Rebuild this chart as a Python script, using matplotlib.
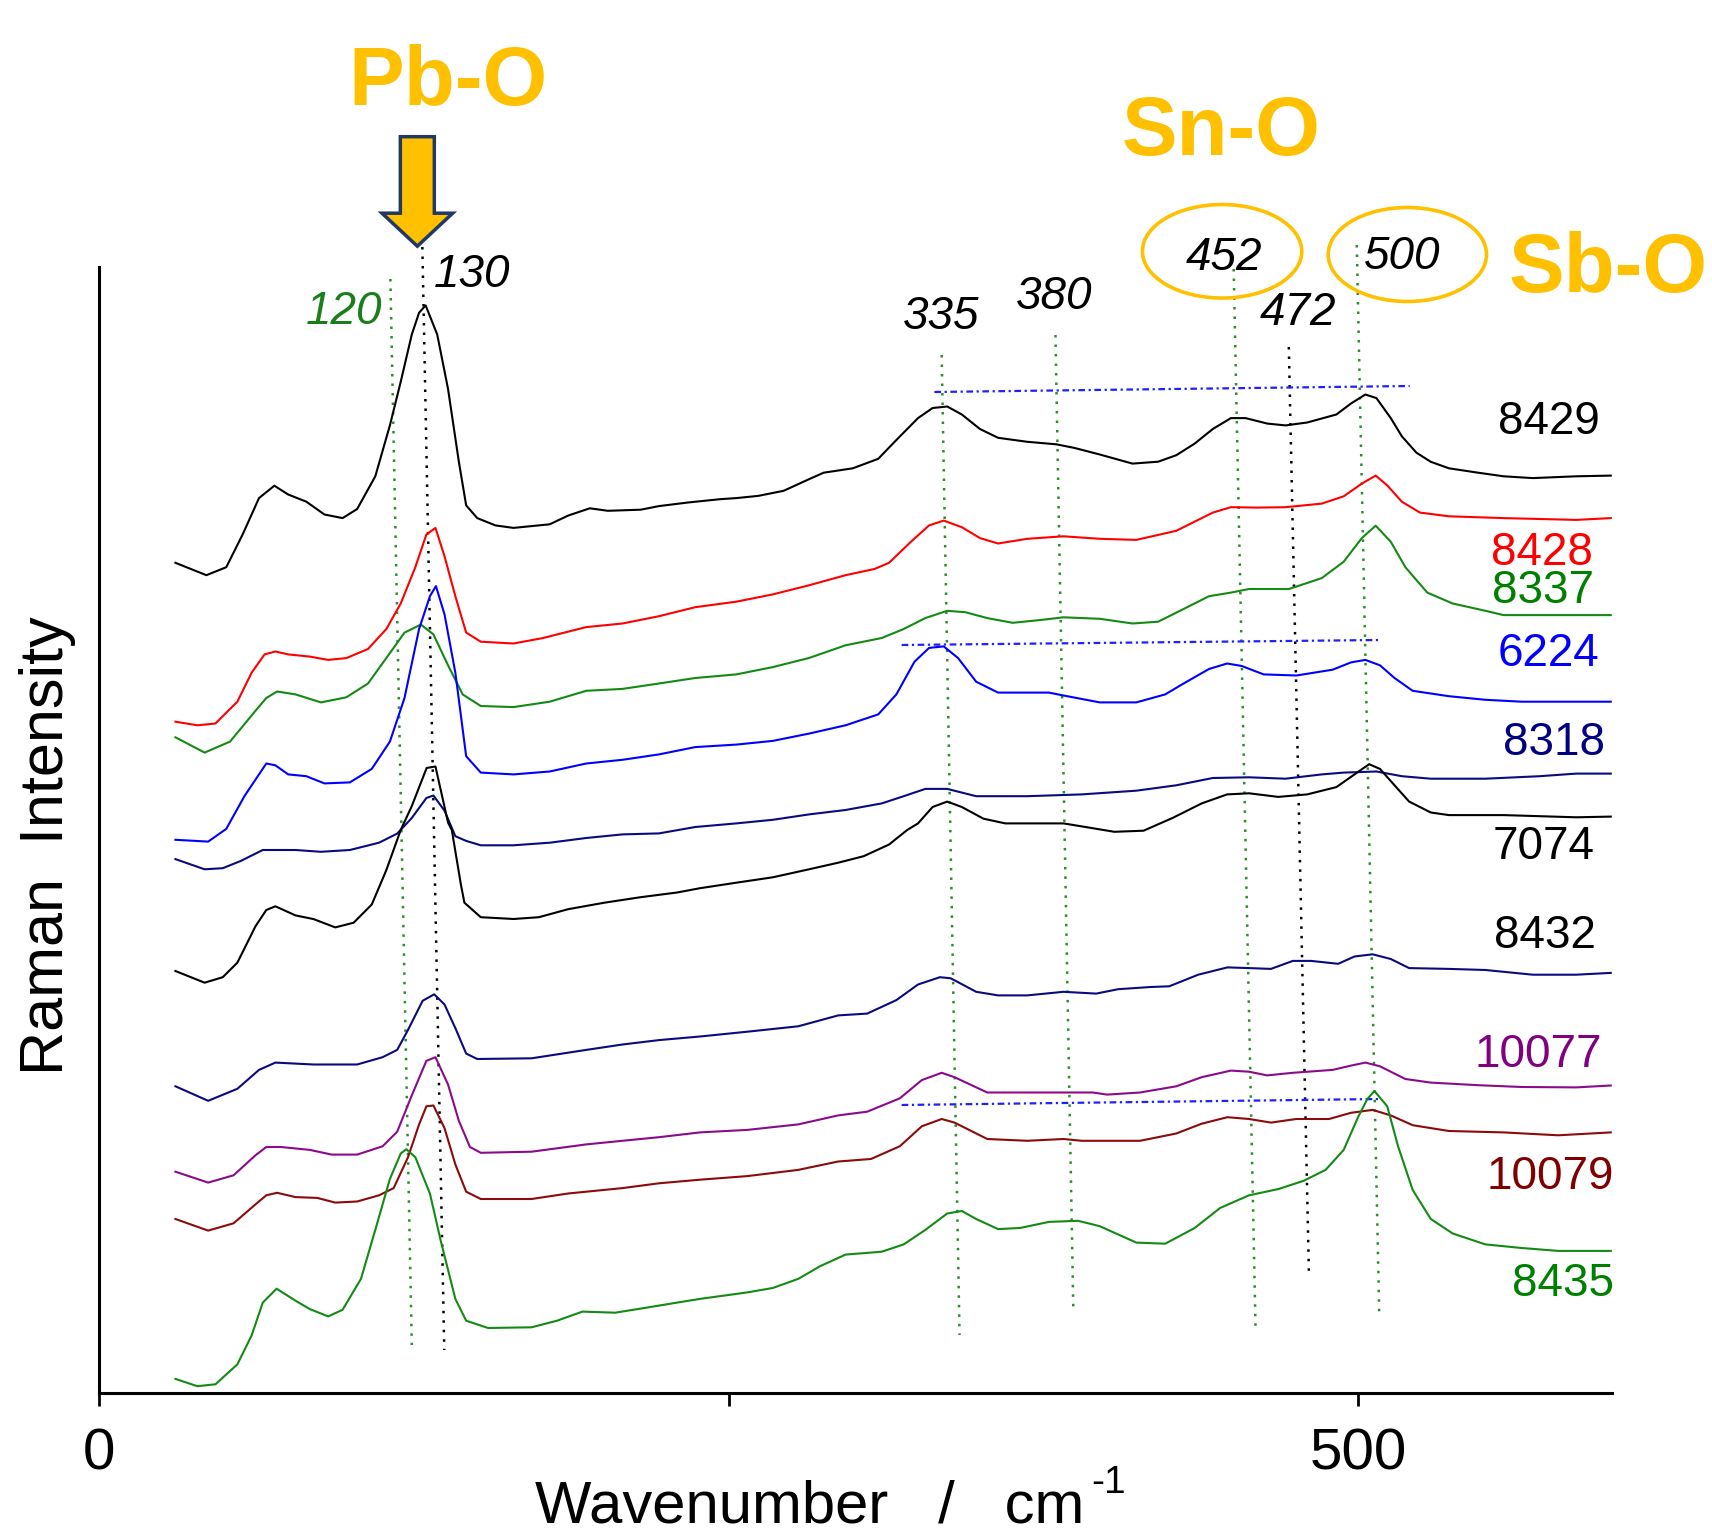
import numpy as np
import matplotlib
matplotlib.use("Agg")
import matplotlib.pyplot as plt
from matplotlib.patches import Ellipse

plt.rcParams['font.family'] = ['Liberation Sans', 'DejaVu Sans']

# spectra (wavenumber, offset intensity)
wn_8429 = [30.2, 42.5, 50.4, 56.9, 63.4, 69.5, 75, 82.2, 89.4, 96.6, 102.4, 109.6, 115.4, 119.7, 124.1, 127, 129.6,
           134.2, 138.5, 142.8, 145.7, 150.1, 157.3, 164.5, 178.9, 186.2, 194.8, 202, 215, 222.3, 233.8, 246.5, 253,
           261.7, 271.8, 281.9, 287.7, 299.3, 309.4, 316.6, 325.2, 331, 336.8, 342.6, 349.8, 357, 368.6, 380.1, 387.3,
           397.4, 410.4, 420.6, 427.8, 435.1, 442.3, 449.5, 455.3, 464, 471.2, 479.8, 491.4, 497.2, 502.9, 507.3, 513,
           517.4, 523.2, 528.9, 536.1, 547.7, 557.8, 569.4, 586.7, 600.4]
int_8429 = [830.2, 817.8, 825.8, 858.5, 894.9, 907.3, 898.5, 891.3, 878.5, 874.9, 884, 916.7, 967.6, 1011.2, 1058.5,
            1080.3, 1087.6, 1058.5, 1004, 931.2, 887.6, 874.9, 867.6, 865.1, 868.7, 877.4, 884.7, 882.2, 883.3, 886.9,
            890.5, 893.8, 894.9, 897.1, 902.2, 913.8, 920.3, 924.7, 934.2, 953, 974.9, 985, 986.5, 978.5, 964, 955.2,
            951.2, 948.7, 945.1, 938.5, 929.4, 931.3, 937.8, 949.4, 964, 974.9, 974.9, 969.4, 967.6, 970.5, 978.5,
            989.5, 998.5, 994.9, 974.9, 956.7, 940.3, 931.2, 924.7, 920.3, 916.7, 914.9, 916.7, 917.4]

wn_8428 = [30.2, 38.9, 46.1, 54.8, 60.5, 65.6, 69.9, 75, 83.6, 90.9, 98.1, 106.7, 114, 119.7, 125.5, 129.9, 133.5,
           137.1, 141.4, 145.7, 151.5, 164.5, 176.1, 193.4, 207.8, 222.3, 236.7, 253, 267.5, 281.9, 296.4, 307.9,
           313.7, 322.4, 329.6, 335.4, 342.6, 349.8, 357, 368.6, 383, 397.4, 411.9, 427.8, 442.3, 449.5, 459.6, 471.2,
           485.6, 494.3, 501.5, 507, 511.6, 517.4, 524.6, 536.1, 557.8, 586.7, 600.4]
int_8428 = [671.3, 667.7, 669.5, 691.3, 720.4, 738.6, 741.5, 738.6, 736.4, 733.1, 734.9, 744, 764, 789.5, 825.8,
            858.5, 865.1, 836.7, 796.8, 760.4, 751.3, 749.5, 754.9, 765.9, 769.5, 776.8, 785.8, 791.3, 798.6, 807.7,
            817.8, 824, 830.2, 851.3, 867.6, 872.4, 865.8, 854.9, 849.5, 854.2, 856.7, 854.2, 853.1, 862.2, 880.4,
            885.8, 885.4, 885.8, 889.4, 896.7, 909.4, 917.4, 907.6, 891.3, 880.4, 876.7, 874.9, 873.1, 874.9]

wn_8337 = [30.2, 41.8, 51.9, 62, 66.3, 70.6, 77.9, 88, 98.1, 106.7, 114, 121.2, 127.7, 132.7, 138.5, 144.3, 151.5,
           164.5, 178.9, 193.4, 207.8, 222.3, 236.7, 253, 267.5, 281.9, 296.4, 310.8, 319.5, 328.1, 336.8, 344, 352.7,
           362.8, 374.3, 383, 397.4, 410.4, 420.6, 430.7, 440.8, 449.5, 456.7, 472.6, 485.6, 494.3, 501.5, 507, 513,
           518.8, 527.5, 537.6, 550.6, 557.8, 572.2, 600.4]
int_8337 = [655.7, 640.4, 651.4, 682.2, 695, 701.5, 698.6, 690.6, 695.7, 709.5, 735, 760.4, 768.4, 758.6, 727.7,
            698.6, 687, 685.9, 691.3, 702.2, 704.1, 709.5, 715, 718.6, 725.9, 735, 747.7, 755, 764, 774.9, 782.2,
            780.8, 774.9, 770.2, 773.1, 775.7, 774.2, 769.5, 771.3, 784, 796.8, 800.4, 804, 804, 814.9, 831.3, 854.9,
            867.3, 851.3, 825.8, 800.4, 789.5, 782.2, 777.9, 777.9, 777.9]

wn_6224 = [30.2, 43.2, 50.4, 57.6, 66.3, 69.9, 75, 82.2, 89.4, 99.5, 108.2, 115.4, 121.2, 127, 131.3, 133.7, 137.1,
           141.4, 145.7, 151.5, 164.5, 178.9, 193.4, 207.8, 222.3, 236.7, 253, 267.5, 281.9, 296.4, 309.4, 316.6,
           323.8, 329.6, 335.4, 341.1, 348.3, 357, 377.2, 383, 397.4, 411.9, 423.4, 430.7, 440.8, 448, 453.8, 462.5,
           475.5, 489.9, 497.2, 502.9, 508.7, 514.5, 521.7, 536.1, 550.6, 565, 600.4]
int_6224 = [553.2, 551.4, 564.1, 596.8, 629.5, 627.7, 618.6, 616.8, 609.6, 610.6, 624.1, 651.4, 695, 764, 796.8,
            806.9, 778.6, 720.4, 636.8, 620.4, 618.6, 621.5, 629.5, 633.2, 638.6, 645.9, 648.4, 652.1, 659.4, 667.7,
            678.6, 698.6, 731.3, 745.1, 746.6, 735, 711.3, 700.4, 700.4, 697.5, 690.6, 690.6, 698.6, 709.5, 724,
            729.5, 727, 718.6, 717.5, 723.3, 730.6, 733.1, 727.7, 715, 702.2, 696.8, 693.2, 691.3, 691.3]

wn_8318 = [30.2, 41.8, 49, 56.2, 64.9, 77.9, 88, 99.5, 111.1, 118.3, 124.1, 129.9, 132.7, 137.1, 141.4, 145.7, 151.5,
           164.5, 178.9, 193.4, 207.8, 222.3, 236.7, 253, 267.5, 281.9, 296.4, 310.8, 319.5, 328.1, 336.8, 348.3,
           368.6, 390.2, 411.9, 427.8, 442.3, 456.7, 471.2, 485.6, 494.3, 507.3, 517.4, 528.9, 550.6, 572.2, 586.7,
           600.4]
int_8318 = [533.9, 523.7, 524.8, 532.1, 543, 543, 541.2, 543, 550.3, 559.4, 575, 595, 597.5, 582.3, 556.8, 552.1,
            547.7, 547.7, 550.3, 555, 558.6, 559.6, 566, 569.6, 573.2, 578.6, 583, 589.6, 596.8, 604.1, 604.1, 596.8,
            596.8, 598.6, 602.3, 607.7, 615, 615.7, 614.3, 618.6, 620.4, 621.5, 616.8, 614.3, 614.3, 616.8, 619.4,
            619.4]

wn_7074 = [30.2, 41.8, 49, 54.8, 62, 66.3, 69.9, 77.9, 85.1, 93.7, 101, 108.2, 114, 119.7, 124.1, 130, 133.5, 138.5,
           140, 143.6, 145, 151.5, 164.5, 174.6, 186.2, 200.6, 215, 229.5, 238.6, 253, 267.5, 281.9, 293.5, 303.6,
           313.7, 320.9, 325.2, 331, 336.8, 342.6, 351.2, 359.9, 383, 391.7, 403.2, 414.8, 426.3, 437.9, 448, 456.7,
           468.3, 479.8, 491.4, 498.6, 504.4, 508.7, 514.5, 520.3, 528.9, 536.1, 557.8, 586.7, 600.4]
int_7074 = [422, 410.3, 415.8, 430.3, 466.7, 483, 486.7, 477.6, 473.9, 465.6, 470.3, 488.5, 523, 563, 586.9, 625,
            626.5, 570.4, 563, 508.5, 490.3, 475.8, 474, 475.8, 483.8, 490.3, 495.8, 500.5, 504.8, 510.3, 515.7,
            523.7, 530.3, 536.8, 548.5, 563, 569.6, 586, 591.4, 586, 574.3, 569.6, 569.6, 566, 561.2, 562.3, 575,
            589.6, 598.6, 599.7, 596.1, 598.6, 605.9, 618.6, 628.8, 624.1, 607.7, 591.4, 580.5, 577.9, 577.9, 575.7,
            576.4]

wn_8432 = [30.2, 43.2, 54.8, 63.4, 69.9, 85.1, 102.4, 112.5, 118.3, 122.6, 128.4, 133, 137.1, 141.4, 145.7, 150.1,
           171.7, 193.4, 207.8, 222.3, 238.6, 257.4, 277.6, 293.5, 305, 316.6, 325.2, 333.9, 338.2, 348.3, 357, 368.6,
           383, 396, 404.7, 417.7, 425, 436.5, 448.1, 456.7, 465.4, 474.1, 481.3, 492.1, 498.6, 505.8, 513, 520.3,
           536.1, 550.6, 569.4, 586.7, 600.4]
int_8432 = [306.7, 292.2, 304.2, 323.1, 330.4, 328.5, 328.5, 335.8, 343.1, 363.1, 392.2, 398.7, 388.5, 364.9, 339.4,
            334, 334.7, 343.1, 348.5, 352.9, 356.5, 361.3, 366.7, 377.6, 379.4, 392.9, 408.5, 415.8, 414.7, 401.2,
            397.6, 397.6, 401.2, 399.4, 403.8, 406, 406.7, 418.3, 425.6, 424.9, 424.1, 432.1, 432.1, 429.2, 436.5,
            438.7, 434, 424.9, 424.1, 423, 418.3, 418.3, 420.1]

wn_10077 = [30.2, 43.2, 53.3, 62, 66.3, 72.1, 83.6, 92.3, 102.4, 112.5, 118.3, 124.1, 129.9, 133.5, 138.5, 142.8,
            147.2, 151.5, 171.7, 193.4, 207.8, 222.3, 238.6, 257.4, 277.6, 293.5, 305, 318, 326.7, 334.6, 339.7, 352.7,
            368.6, 394.6, 400.3, 413.4, 427.8, 437.9, 449.5, 456.7, 463.9, 474.1, 489.9, 497.2, 502.9, 508.7, 518.8,
            528.9, 547.7, 565, 586.7, 600.4]
int_10077 = [221.3, 210.4, 217.7, 237.7, 246, 246, 243.1, 238.4, 238.4, 246.7, 261.3, 297.6, 332.2, 335.8, 308.5,
             272.2, 246, 240.2, 241.3, 248.6, 252.2, 255.8, 260.6, 263.1, 268.6, 277.6, 281.3, 294.7, 312.9, 320.2,
             315.8, 300.5, 300.5, 300.5, 298.4, 300.5, 306.7, 315.8, 322.4, 321.3, 317.6, 320.2, 323.1, 327.4, 330.4,
             326.7, 314, 310.4, 307.8, 306, 305.6, 307.5]

wn_10079 = [30.2, 43.2, 53.3, 62, 66.3, 70.6, 77.9, 86.5, 93.7, 102.4, 111.1, 116.9, 122.6, 127, 129.9, 132.7, 137.1,
            141.4, 145.7, 151.5, 171.7, 186.2, 207.8, 222.3, 238.6, 257.4, 277.6, 293.5, 306.5, 318, 326.7, 334.6,
            339.7, 352.7, 368.6, 383, 390.2, 413.4, 427.8, 437.9, 448.1, 456.7, 465.4, 475.5, 488.5, 497.2, 505.8, 513,
            521.7, 536.1, 557.8, 579.5, 600.4]
int_10079 = [174, 162.4, 169.7, 188.6, 197.7, 200.2, 195.9, 195.1, 190.4, 191.5, 197.7, 204.9, 235.8, 268.6, 286.7,
             287.5, 264.9, 228.6, 201.3, 194, 194, 199.5, 204.9, 209.7, 213.3, 216.9, 223.1, 231.5, 234, 246.8, 266.7,
             274, 270.4, 254, 252.2, 254, 252.2, 252.2, 259.5, 269.3, 275.8, 274, 270.4, 274, 274, 280.2, 283.1, 277.6,
             267.8, 262, 260.6, 257.7, 260.6]

wn_8435 = [30.2, 38.9, 46.1, 54.8, 60.5, 64.9, 70.4, 77.9, 83.6, 90.9, 96.6, 103.9, 109.6, 115.4, 119.7, 121.9, 125.5,
           131.3, 135.6, 141.4, 145.7, 154.4, 171.7, 181.8, 191.9, 204.9, 216.5, 229.5, 238.6, 257.4, 267.5, 277.6,
           286.3, 296.4, 310.8, 319.5, 328.1, 336.8, 342.6, 348.3, 357, 365.7, 377.2, 388.8, 397.4, 411.9, 423.4,
           435.1, 445.2, 456.7, 468.3, 478.4, 487.1, 494.3, 500, 503.7, 506.5, 511.6, 515.9, 521.7, 528.9, 537.6,
           550.6, 565, 579.5, 600.4]
int_8435 = [14.1, 6.8, 8.7, 28.6, 57.7, 90.4, 104.3, 92.3, 83.9, 76.6, 83.2, 114.1, 163.1, 214, 239.5, 243.8, 235.8,
            199.5, 152.2, 94.1, 72.3, 65, 65.7, 72.3, 81.4, 80.3, 85, 90.4, 94.1, 100.6, 105, 114.1, 126.8, 138.4,
            141.3, 148.6, 163.1, 179.5, 182, 174, 163.9, 165, 171.1, 172.2, 166.8, 150.4, 149.3, 165, 185, 197.7,
            203.9, 212.2, 223.1, 243.1, 275.8, 294, 302, 286.7, 246.7, 203.1, 174, 159.5, 148.6, 145, 142.1, 142.1]

samples = ['8429', '8428', '8337', '6224', '8318', '7074', '8432', '10077', '10079', '8435']
line_colors = ['black', '#ff0000', '#138a13', '#0000ff', '#0a0a80', 'black', '#0a0a80', '#8b0a8b', '#8b0a0a', '#138a13']
label_colors = ['black', '#ff0000', '#008000', '#0000ff', '#000080', 'black', 'black', '#800080', '#800000', '#008000']
label_y = [971, 840, 802, 739, 650, 546, 457, 338, 216, 109]
label_x = [596, 593.2, 593.9, 596, 598.2, 593.9, 594.6, 596.8, 601.8, 601.8]

# dotted peak guides: (label, top wn, top y, bottom wn, bottom y, colour)
guides = [('120', 115.6, 1114, 124.1, 48, '#2e8b2e'),
          ('130', 128.3, 1146, 137.0, 43, 'black'),
          ('335', 334.6, 1038, 341.7, 58, '#2e8b2e'),
          ('380', 379.8, 1058, 386.9, 83, '#2e8b2e'),
          ('452', 450.6, 1124, 459.3, 63, '#2e8b2e'),
          ('472', 472.5, 1046, 480.5, 118, 'black'),
          ('500', 499.5, 1148, 508.4, 81, '#2e8b2e')]
peak_text = {'120': (97.2, 1081, '#1a7f1a'), '130': (148.2, 1118, 'black'), '335': (334.2, 1076, 'black'),
             '380': (379.4, 1096, 'black'), '452': (446.9, 1135, 'black'), '472': (476.2, 1080, 'black'),
             '500': (517.6, 1136, 'black')}

# blue dash-dot baselines
baselines = [(331.7, 1001, 520.5, 1007), (318.7, 748, 508.7, 753), (318.7, 288, 508.7, 294)]

spectra = {'8429': (wn_8429, int_8429), '8428': (wn_8428, int_8428), '8337': (wn_8337, int_8337),
           '6224': (wn_6224, int_6224), '8318': (wn_8318, int_8318), '7074': (wn_7074, int_7074),
           '8432': (wn_8432, int_8432), '10077': (wn_10077, int_10077), '10079': (wn_10079, int_10079),
           '8435': (wn_8435, int_8435)}

fig = plt.figure(figsize=(17.12, 15.29), dpi=100)
ax = fig.add_axes([0.05806, 0.08895, 0.8834, 0.91105])
ax.set_xlim(0, 600.8)
ax.set_ylim(0, 1393)

for name, t_wn, t_y, b_wn, b_y, col in guides:
    ax.plot([t_wn, b_wn], [t_y, b_y], color=col, lw=1.8, linestyle=(0, (1, 2.8)), zorder=1)
    tx, ty, tc = peak_text[name]
    ax.text(tx, ty, name, fontsize=33, style='italic', color=tc, ha='center', va='center')

for x1, y1, x2, y2 in baselines:
    ax.plot([x1, x2], [y1, y2], color='#1f1fff', lw=1.6, linestyle=(0, (3, 1.6, 1, 1.6)), zorder=1)

for i, s in enumerate(samples):
    x, y = spectra[s]
    ax.plot(np.array(x), np.array(y), color=line_colors[i], lw=1.5, zorder=3)
    ax.text(label_x[i], label_y[i], s, fontsize=33, color=label_colors[i], ha='right', va='center')

# highlighted bands
orange = '#FFC000'
ax.add_patch(Ellipse((446.0, 1141.7), 63.3, 93.5, fill=False, ec=orange, lw=2.6))
ax.add_patch(Ellipse((519.6, 1138.5), 62.9, 94.0, fill=False, ec=orange, lw=2.6))
ax.text(138.6, 1310, 'Pb-O', fontsize=60, fontweight='bold', color=orange, ha='center', va='center')
ax.text(445.6, 1260, 'Sn-O', fontsize=60, fontweight='bold', color=orange, ha='center', va='center')
ax.text(599.5, 1123, 'Sb-O', fontsize=60, fontweight='bold', color=orange, ha='center', va='center')
ax.arrow(126.3, 1256.3, 0, -109.5, width=13.5, head_width=28.1, head_length=33,
         length_includes_head=True, fc=orange, ec='#1F3864', lw=2.5, zorder=4)

# axes styling
for side in ['top', 'right']:
    ax.spines[side].set_visible(False)
ax.spines['left'].set_bounds(0, 1126)
ax.spines['left'].set_linewidth(2.2)
ax.spines['bottom'].set_linewidth(2.2)
ax.set_yticks([])
ax.set_xticks([0, 250, 500])
ax.set_xticklabels(['0', '', '500'])
ax.tick_params(axis='x', direction='out', length=9, width=2.0, labelsize=42, pad=16)

xl = ax.text(282.0, -130, 'Wavenumber   /   cm', fontsize=43, ha='center', va='baseline')
ax.annotate('-1', xy=(1.0, 0.62), xycoords=xl, xytext=(5, 0), textcoords='offset points',
            fontsize=28, ha='left', va='bottom')
ax.text(-20.5, 547, 'Raman  Intensity', fontsize=44, rotation=90, ha='center', va='center')

fig.savefig('out.png', dpi=100)
